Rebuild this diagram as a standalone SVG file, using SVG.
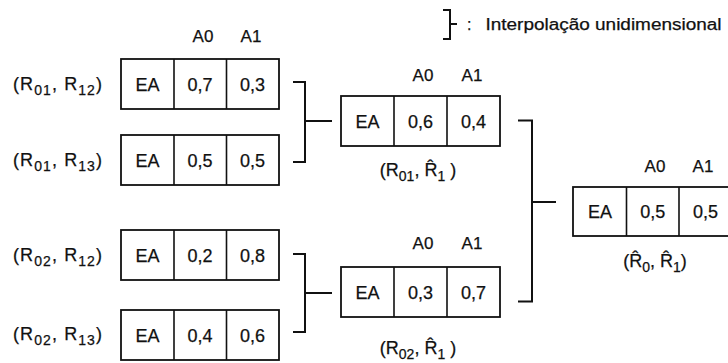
<svg xmlns="http://www.w3.org/2000/svg" width="728" height="363" viewBox="0 0 728 363">
  <style>
    text { font-family: "Liberation Sans", Arial, sans-serif; fill: #111; stroke: #111; stroke-width: 0.25; }
    .cell { font-size: 18px; text-anchor: middle; }
    .hdr { font-size: 17px; text-anchor: middle; }
    .lbl { font-size: 18px; }
    .lblc { font-size: 18px; text-anchor: middle; }
    .sub { font-size: 14px; }
    .box { fill: #fff; stroke: #111; stroke-width: 1.8; }
    .div { stroke: #111; stroke-width: 1.6; }
    .wire { fill: none; stroke: #111; stroke-width: 2; }
    .legend { font-size: 16px; }
  </style>
  <rect width="728" height="363" fill="#fff"/>

  <!-- legend: bracket symbol means one-dimensional interpolation -->
  <g id="legend">
    <path class="wire" d="M443,10 H450 V39 H443 M450,24 H457"/>
    <text class="legend" x="467" y="30">:</text>
    <text class="legend" x="485.5" y="30" textLength="236" lengthAdjust="spacingAndGlyphs">Interpolação unidimensional</text>
  </g>

  <!-- column headers -->
  <g id="headers">
    <text class="hdr" x="203" y="42">A0</text>
    <text class="hdr" x="251" y="42">A1</text>
    <text class="hdr" x="423" y="81">A0</text>
    <text class="hdr" x="472" y="81">A1</text>
    <text class="hdr" x="423" y="249">A0</text>
    <text class="hdr" x="472" y="249">A1</text>
    <text class="hdr" x="655" y="172">A0</text>
    <text class="hdr" x="703" y="172">A1</text>
  </g>

  <!-- input tables -->
  <g id="t-r01-r12">
    <rect class="box" x="121" y="59" width="158" height="50"/>
    <path class="div" d="M174,59 V109 M226.5,59 V109"/>
    <text class="cell" x="147.5" y="90.5">EA</text>
    <text class="cell" x="200" y="90.5">0,7</text>
    <text class="cell" x="252.5" y="90.5">0,3</text>
    <text class="lbl" x="13" y="90" textLength="89">(R<tspan class="sub" dy="5">01</tspan><tspan dy="-5">, R</tspan><tspan class="sub" dy="5">12</tspan><tspan dy="-5">)</tspan></text>
  </g>
  <g id="t-r01-r13">
    <rect class="box" x="121" y="135" width="158" height="50"/>
    <path class="div" d="M174,135 V185 M226.5,135 V185"/>
    <text class="cell" x="147.5" y="166.5">EA</text>
    <text class="cell" x="200" y="166.5">0,5</text>
    <text class="cell" x="252.5" y="166.5">0,5</text>
    <text class="lbl" x="13" y="166" textLength="89">(R<tspan class="sub" dy="5">01</tspan><tspan dy="-5">, R</tspan><tspan class="sub" dy="5">13</tspan><tspan dy="-5">)</tspan></text>
  </g>
  <g id="t-r02-r12">
    <rect class="box" x="121" y="230" width="158" height="50"/>
    <path class="div" d="M174,230 V280 M226.5,230 V280"/>
    <text class="cell" x="147.5" y="261.5">EA</text>
    <text class="cell" x="200" y="261.5">0,2</text>
    <text class="cell" x="252.5" y="261.5">0,8</text>
    <text class="lbl" x="13" y="261" textLength="89">(R<tspan class="sub" dy="5">02</tspan><tspan dy="-5">, R</tspan><tspan class="sub" dy="5">12</tspan><tspan dy="-5">)</tspan></text>
  </g>
  <g id="t-r02-r13">
    <rect class="box" x="121" y="310" width="158" height="50"/>
    <path class="div" d="M174,310 V360 M226.5,310 V360"/>
    <text class="cell" x="147.5" y="341.5">EA</text>
    <text class="cell" x="200" y="341.5">0,4</text>
    <text class="cell" x="252.5" y="341.5">0,6</text>
    <text class="lbl" x="13" y="340" textLength="89">(R<tspan class="sub" dy="5">02</tspan><tspan dy="-5">, R</tspan><tspan class="sub" dy="5">13</tspan><tspan dy="-5">)</tspan></text>
  </g>

  <!-- first interpolation stage -->
  <g id="t-r01-r1hat">
    <rect class="box" x="341" y="96" width="159" height="50"/>
    <path class="div" d="M394,96 V146 M447,96 V146"/>
    <text class="cell" x="367.5" y="127.5">EA</text>
    <text class="cell" x="420.5" y="127.5">0,6</text>
    <text class="cell" x="473.5" y="127.5">0,4</text>
    <text class="lblc" x="418" y="176">(R<tspan class="sub" dy="5">01</tspan><tspan dy="-5">, R̂</tspan><tspan class="sub" dy="5">1</tspan><tspan dy="-5"> )</tspan></text>
  </g>
  <g id="t-r02-r1hat">
    <rect class="box" x="341" y="267" width="159" height="50"/>
    <path class="div" d="M394,267 V317 M447,267 V317"/>
    <text class="cell" x="367.5" y="298.5">EA</text>
    <text class="cell" x="420.5" y="298.5">0,3</text>
    <text class="cell" x="473.5" y="298.5">0,7</text>
    <text class="lblc" x="418" y="354">(R<tspan class="sub" dy="5">02</tspan><tspan dy="-5">, R̂</tspan><tspan class="sub" dy="5">1</tspan><tspan dy="-5"> )</tspan></text>
  </g>

  <!-- final interpolation stage -->
  <g id="t-r0hat-r1hat">
    <rect class="box" x="573" y="187" width="160" height="49"/>
    <path class="div" d="M626.5,187 V236 M679,187 V236"/>
    <text class="cell" x="600" y="218">EA</text>
    <text class="cell" x="652.75" y="218">0,5</text>
    <text class="cell" x="705.5" y="218">0,5</text>
    <text class="lblc" x="655" y="267">(R̂<tspan class="sub" dy="5">0</tspan><tspan dy="-5">, R̂</tspan><tspan class="sub" dy="5">1</tspan><tspan dy="-5">)</tspan></text>
  </g>

  <!-- interpolation brackets -->
  <g id="connectors">
    <path class="wire" d="M293,82 H305 V162 H293 M305,121 H332"/>
    <path class="wire" d="M293,254 H305 V332 H293 M305,293 H332"/>
    <path class="wire" d="M518,120.5 H532 V301.5 H518 M532,202 H556"/>
  </g>
</svg>
